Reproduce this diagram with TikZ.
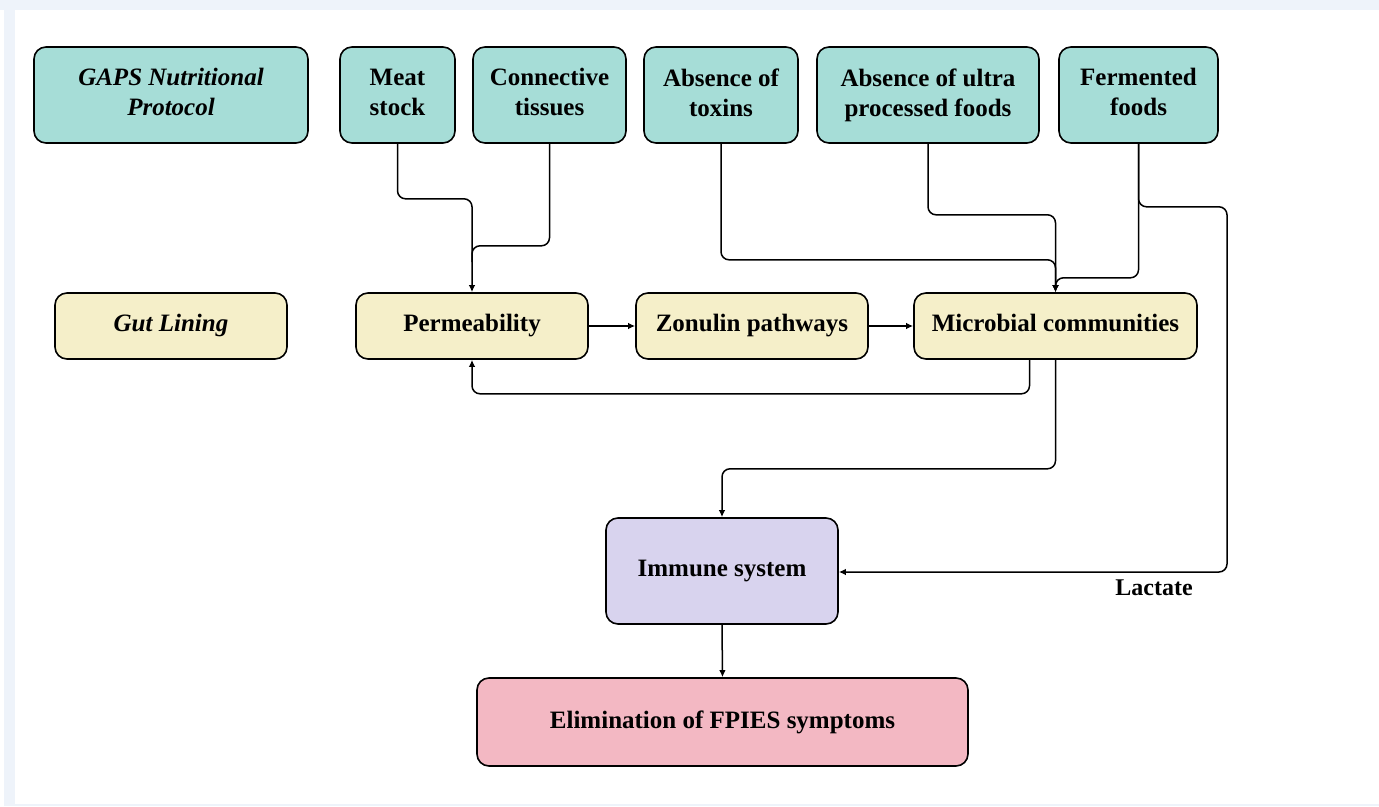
\documentclass[tikz,border=0pt]{standalone}
\usepackage{fontspec}
\setmainfont{Liberation Serif}
\usetikzlibrary{arrows.meta,calc}
\definecolor{bgblue}{RGB}{238,243,250}
\definecolor{teal1}{RGB}{166,221,215}
\definecolor{yel1}{RGB}{245,239,201}
\definecolor{lav1}{RGB}{216,211,238}
\definecolor{pink1}{RGB}{243,184,195}
\tikzset{
  box/.style={draw=black, line width=1.6pt, rounded corners=12pt, inner sep=0pt, align=center,
    font=\fontsize{25}{30}\selectfont\bfseries, execute at end node={\vphantom{py}}},
  topbox/.style={box, fill=teal1, minimum height=96pt},
  midbox/.style={box, fill=yel1, minimum height=66pt},
  conn/.style={draw=black, line width=1.5pt, rounded corners=8pt},
  arr/.style={conn, -{Latex[length=7pt,width=6.5pt]}},
}
\begin{document}
\begin{tikzpicture}[x=1pt,y=-1pt]
\useasboundingbox (0,0) rectangle (1379,806);
\fill[white] (0,0) rectangle (1379,806);
\fill[bgblue] (0,0) rectangle (1379,10);
\fill[bgblue] (4,0) rectangle (15,806);
\fill[bgblue] (4,804) rectangle (1379,806);
% top row
\node[topbox, minimum width=274pt] (gaps) at (171,95) {\itshape GAPS Nutritional\\\itshape Protocol};
\node[topbox, minimum width=115pt] (meat) at (397.5,95) {Meat\\stock};
\node[topbox, minimum width=153pt] (conn) at (549.5,95) {Connective\\tissues};
\node[topbox, minimum width=154pt] (tox) at (721,95) {Absence of\\toxins};
\node[topbox, minimum width=222pt] (ultra) at (928,95) {Absence of ultra\\processed foods};
\node[topbox, minimum width=159pt] (ferm) at (1138.5,95) {Fermented\\foods};
% middle row
\node[midbox, minimum width=232pt] (gut) at (171,326) {\itshape Gut Lining};
\node[midbox, minimum width=232pt] (perm) at (472,326) {Permeability};
\node[midbox, minimum width=232pt] (zon) at (752,326) {Zonulin pathways};
\node[midbox, minimum width=283pt] (micro) at (1055.5,326) {Microbial communities};
% lower
\node[box, fill=lav1, minimum width=232pt, minimum height=106pt] (imm) at (722,571) {Immune system};
\node[box, fill=pink1, minimum width=491pt, minimum height=88pt] (elim) at (722.5,722) {Elimination of FPIES symptoms};
% connectors
\draw[arr] (meat.south) -- ++(0,55) -| (perm.north);
\draw[conn] (conn.south) -- ++(0,102) -| ($(perm.north)+(0,-30)$);
\draw[arr] (perm.east) -- (zon.west);
\draw[arr] (zon.east) -- (micro.west);
\coordinate (mfb) at ($(micro.south)+(-26,0)$);
\draw[arr] (mfb) -- ++(0,34) -| (perm.south);
\draw[arr] (tox.south) -- ++(0,116) -| (micro.north);
\draw[arr] (ultra.south) -- ++(0,71) -| (micro.north);
\draw[arr] (ferm.south) -- ++(0,134) -| (micro.north);
\coordinate (lac) at (1227,572);
\draw[arr] (ferm.south) -- ++(0,63) -| (lac) -- (imm.east |- lac);
\node[font=\fontsize{24}{28}\selectfont\bfseries, inner sep=0pt] (lactxt) at (1154,588) {Lactate};
\draw[arr] (micro.south) -- ++(0,109) -| (imm.north);
\draw[arr] (imm.south) -- (elim.north);
\end{tikzpicture}
\end{document}
